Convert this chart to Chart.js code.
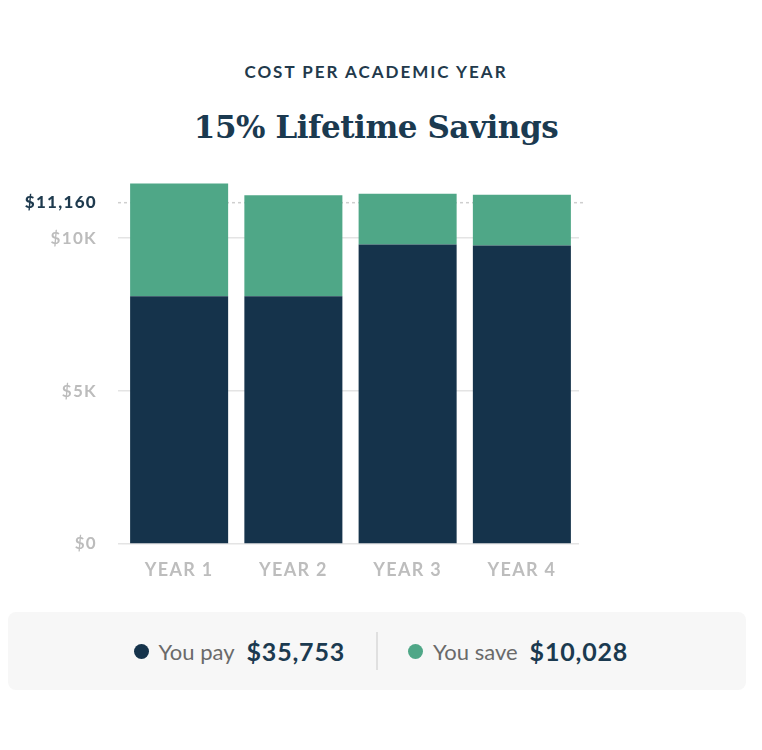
<!DOCTYPE html>
<html>
<head>
<meta charset="utf-8">
<script src="https://cdn.jsdelivr.net/npm/chart.js@4/dist/chart.umd.min.js"></script>
<style>
  html, body { margin: 0; padding: 0; background: #ffffff; }
  body { width: 762px; height: 750px; position: relative; overflow: hidden; font-family: Lato, "Open Sans", sans-serif; }
  #sub { position: absolute; left: 0; width: 752px; top: 63px; text-align: center; font: 700 17px/1 Lato, sans-serif; letter-spacing: 2px; color: #22394b; }
  #title { position: absolute; left: 0; width: 752px; top: 112px; text-align: center; font: 700 31px/1 "DejaVu Serif", serif; letter-spacing: -0.45px; color: #1b3a50; }
  #chartWrap { position: absolute; left: 0; top: 160px; width: 762px; height: 440px; }
  #legend { position: absolute; left: 8px; top: 612px; width: 738px; height: 78px; background: #f7f7f7; border-radius: 8px;
            display: flex; align-items: center; justify-content: flex-start; box-sizing: border-box; padding-left: 125.5px; }
  .dot { width: 15px; height: 15px; border-radius: 50%; display: inline-block; flex: none; }
  .lab { font: 400 22px Lato, sans-serif; color: #6a6a6a; margin-left: 10px; }
  .val { font: 700 25px Lato, sans-serif; color: #1b3a50; margin-left: 12px; letter-spacing: 0.8px; }
  .sep { width: 2px; height: 38px; background: #e0e0e0; margin: 0 30px 0 31px; flex: none; }
</style>
</head>
<body>
<div id="sub">COST PER ACADEMIC YEAR</div>
<div id="title">15% Lifetime Savings</div>
<div id="chartWrap"><canvas id="c" width="762" height="440" style="width:762px;height:440px"></canvas></div>
<div id="legend">
  <span class="dot" style="background:#15334b"></span><span class="lab">You pay</span><span class="val">$35,753</span>
  <span class="sep"></span>
  <span class="dot" style="background:#4fa787"></span><span class="lab">You save</span><span class="val">$10,028</span>
</div>
<script>
const categories = ['YEAR 1', 'YEAR 2', 'YEAR 3', 'YEAR 4'];
const youPay = [8100, 8100, 9790, 9763];
const youSave = [3690, 3300, 1660, 1660];
const yTickValues = [0, 5000, 10000, 11160];
const yTickLabels = ['$0', '$5K', '$10K', '$11,160'];
const highlightValue = 11160;
const yMax = 12000;

const navy = '#15334b';
const green = '#4fa787';

const spacingPlugin = {
  id: 'spacing',
  beforeDraw(chart) { chart.ctx.letterSpacing = '1.3px'; }
};

const dashedLinePlugin = {
  id: 'dashedLine',
  beforeDatasetsDraw(chart) {
    const y = chart.scales.y.getPixelForValue(highlightValue);
    const a = chart.chartArea;
    const ctx = chart.ctx;
    ctx.save();
    ctx.strokeStyle = '#cfcfcf';
    ctx.lineWidth = 1.5;
    ctx.setLineDash([3, 3]);
    ctx.beginPath();
    ctx.moveTo(a.left - 4, y);
    ctx.lineTo(a.right + 4, y);
    ctx.stroke();
    ctx.restore();
  }
};

new Chart(document.getElementById('c'), {
  type: 'bar',
  data: {
    labels: categories,
    datasets: [
      { label: 'You pay', data: youPay, backgroundColor: navy, borderWidth: 0 },
      { label: 'You save', data: youSave, backgroundColor: green, borderWidth: 0 }
    ]
  },
  options: {
    responsive: false,
    maintainAspectRatio: false,
    animation: false,
    layout: { padding: { top: 17, right: 183, bottom: 0, left: 0 } },
    datasets: { bar: { barPercentage: 0.858, categoryPercentage: 1 } },
    plugins: { legend: { display: false }, tooltip: { enabled: false }, title: { display: false } },
    scales: {
      x: {
        stacked: true,
        grid: { display: false, drawTicks: false },
        border: { display: false },
        ticks: { color: '#bdbdbd', padding: 15, font: { family: 'Lato', size: 18, weight: 'bold' } },
        afterFit(scale) { scale.height = 56; scale.paddingLeft = 0; scale.paddingRight = 0; }
      },
      y: {
        stacked: true,
        min: 0,
        max: yMax,
        border: { display: false },
        afterBuildTicks(scale) { scale.ticks = yTickValues.map(v => ({ value: v })); },
        afterFit(scale) { scale.width = 122; scale.paddingTop = 0; scale.paddingBottom = 0; },
        grid: {
          drawTicks: true,
          tickLength: 4,
          lineWidth: 1.5,
          color: c => (c.tick && c.tick.value === highlightValue) ? 'rgba(0,0,0,0)' : '#e4e4e4',
          tickColor: c => (c.tick && c.tick.value === highlightValue) ? 'rgba(0,0,0,0)' : '#e4e4e4'
        },
        ticks: {
          padding: 21,
          color: c => (c.tick && c.tick.value === highlightValue) ? '#1e3a4e' : '#bcbcbc',
          font: c => ({ family: 'Lato', size: 17, weight: (c.tick && c.tick.value === highlightValue) ? '900' : 'bold' }),
          callback: (value) => {
            const i = yTickValues.indexOf(value);
            return i >= 0 ? yTickLabels[i] : '';
          }
        }
      }
    }
  },
  plugins: [spacingPlugin, dashedLinePlugin]
});
</script>
</body>
</html>
